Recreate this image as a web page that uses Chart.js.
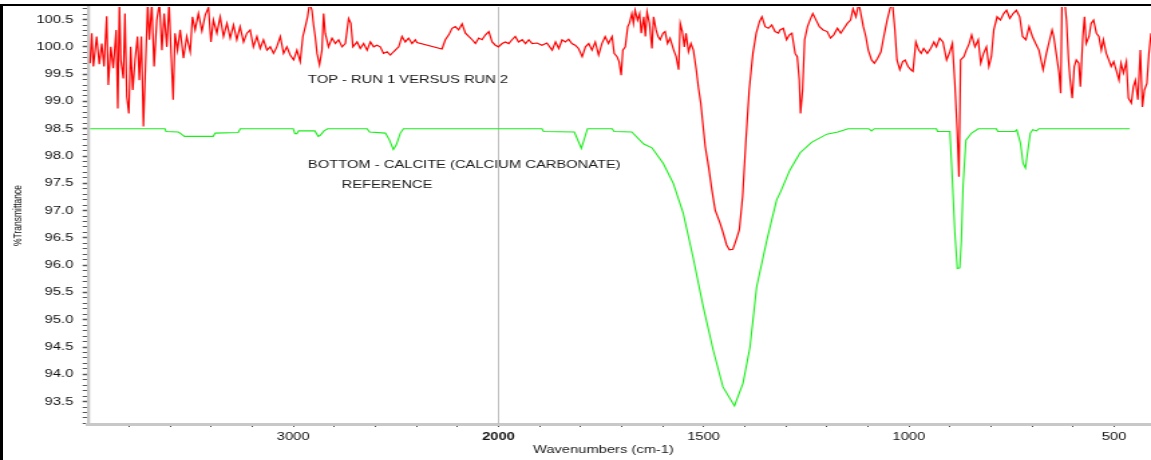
<!DOCTYPE html>
<html><head><meta charset="utf-8">
<script src="https://cdn.jsdelivr.net/npm/chart.js@4/dist/chart.umd.min.js"></script>
<style>
html,body{margin:0;padding:0;background:#fff;overflow:hidden;width:1151px;height:460px;}
#wrap{position:absolute;left:0;top:0;width:860px;height:460px;transform:scaleX(1.338372);transform-origin:0 0;}
#frame{position:absolute;left:0;top:4px;width:1151px;height:456px;border-left:3px solid #000;border-top:2px solid #000;box-sizing:border-box;pointer-events:none;}
</style></head><body>
<div id="wrap"><canvas id="c" width="860" height="460"></canvas></div>
<div id="frame"></div>
<script>
// ---- data (wavenumbers in cm-1, %Transmittance) ----
const redWn = [
3990,3982,3974,3958,3945,3933,3922,3909,3901,3889,
3877,3863,3855,3847,3840,3828,3820,3811,3801,3792,
3782,3771,3759,3750,3740,3730,3720,3709,3701,3689,
3678,3665,3652,3640,3629,3616,3605,3595,3585,3576,
3564,3551,3535,3519,3502,3491,3478,3462,3445,3429,
3413,3401,3389,3372,3356,3340,3323,3307,3291,3275,
3259,3242,3226,3210,3194,3177,3161,3145,3128,3112,
3096,3080,3063,3047,3031,3015,2998,2982,2966,2953,
2941,2930,2920,2909,2901,2893,2884,2872,2860,2852,
2844,2828,2811,2795,2779,2762,2746,2730,2719,2709,
2689,2673,2657,2640,2624,2608,2592,2576,2560,2543,
2527,2511,2494,2486,2470,2454,2438,2421,2405,2397,
2275,2259,2242,2226,2210,2194,2177,2161,2145,2128,
2112,2096,2080,2063,2047,2031,2015,2000,
1991,1983,1975,1967,1959,1951,1942,1934,1926,1918,
1906,1894,1882,1869,1861,1853,1845,1837,1829,1821,
1813,1805,1796,1788,1780,1772,1764,1756,1748,1740,
1732,1723,1718,1711,1706,1701,1697,1691,1685,1681,
1675,1671,1667,1661,1656,1652,1646,1642,1638,1632,
1626,1622,1616,1611,1606,1599,1594,1588,1582,1573,
1567,1561,1557,1552,1547,1543,1537,1531,1525,1518,
1513,1507,1502,1496,1488,1480,1472,1460,1452,1444,
1437,1429,1421,1413,1405,1397,1389,1380,1372,1364,
1358,1350,1342,1334,1326,1318,1314,1306,1298,1291,
1285,1277,1272,1267,1264,1259,1254,1247,1241,1234,
1226,1218,1209,1199,1191,1183,1174,1166,1158,1150,
1142,1136,1129,1122,1117,1111,1105,1099,1091,1084,
1076,1068,1061,1053,1046,1040,1034,1029,1022,1015,
1009,1002,995,990,983,976,970,964,955,947,
939,933,925,917,908,900,894,888,882,878,
874,866,860,853,847,839,831,825,818,811,
805,799,793,785,777,769,762,754,746,738,
730,723,715,707,699,691,683,673,665,657,
651,647,641,634,630,627,620,616,611,607,
602,597,592,586,582,576,572,568,561,556,
550,543,537,531,526,519,513,507,501,495,
488,483,477,470,465,458,453,448,442,436,
431,426,420,415,410
];
const redT = [
99.70,100.25,99.64,100.19,99.68,100.06,99.64,100.56,99.30,100.00,
99.61,100.31,98.87,100.80,99.76,99.42,100.61,99.09,98.78,100.00,
99.21,99.76,100.19,99.39,100.19,98.54,99.64,100.80,100.13,100.80,
99.64,100.49,100.80,99.94,100.61,100.00,100.80,99.88,99.03,100.25,
99.94,100.31,99.79,100.19,99.91,100.55,100.31,100.61,100.29,100.58,
100.72,100.09,100.49,100.25,100.55,100.19,100.43,100.16,100.40,100.13,
100.37,100.09,100.25,100.31,100.00,100.19,99.97,100.13,99.94,100.00,
99.88,100.00,100.19,99.88,100.00,99.85,99.76,99.94,99.73,100.19,
100.37,100.55,100.80,100.67,100.40,100.19,99.88,99.67,99.94,100.61,
100.25,100.00,100.16,100.06,100.13,100.00,100.06,100.52,100.43,100.00,
100.09,99.97,100.06,99.94,100.09,100.00,100.03,100.00,99.88,99.91,
99.85,99.91,99.97,100.00,100.19,100.09,100.16,100.06,100.13,100.08,
99.96,100.13,100.22,100.34,100.37,100.31,100.42,100.25,100.19,100.13,
100.06,100.16,100.13,100.22,100.28,100.09,100.03,100.00,
100.06,100.09,100.06,100.13,100.19,100.09,100.13,100.06,100.13,100.06,
100.07,100.03,100.07,99.94,100.09,99.97,100.13,100.09,100.14,100.06,
100.03,99.97,99.82,100.00,100.06,99.94,100.09,99.85,100.06,100.19,
100.06,100.19,99.88,99.82,99.73,99.48,99.94,100.00,100.37,100.43,
100.61,100.43,100.67,100.49,100.61,100.25,100.55,100.19,100.64,100.43,
99.97,100.55,100.31,100.19,100.13,100.25,100.28,100.06,100.16,99.94,
99.82,99.58,100.43,100.28,100.00,100.25,99.91,100.06,99.94,99.58,
99.27,98.97,98.60,98.17,97.80,97.38,97.01,96.77,96.58,96.37,
96.28,96.29,96.46,96.65,97.26,98.29,99.21,99.88,100.25,100.46,
100.55,100.37,100.34,100.40,100.28,100.25,100.31,100.34,100.13,100.22,
100.25,99.88,99.82,99.39,98.78,99.21,100.13,100.37,100.49,100.61,
100.49,100.37,100.31,100.28,100.16,100.22,100.34,100.25,100.34,100.43,
100.49,100.70,100.55,100.80,100.61,100.37,100.19,99.94,99.76,99.70,
99.79,99.91,100.19,100.49,100.70,100.80,100.31,99.76,99.58,99.73,
99.76,99.64,99.58,99.55,100.09,99.94,99.88,99.97,99.88,99.97,
100.09,100.00,100.16,100.09,99.76,99.91,100.06,99.33,98.42,97.62,
99.76,99.82,99.94,100.06,100.22,100.00,100.13,99.70,99.88,100.00,
99.64,99.82,100.31,100.55,100.49,100.61,100.67,100.52,100.61,100.67,
100.55,100.19,100.13,100.37,100.19,100.06,99.94,99.58,99.88,100.13,
100.31,100.19,99.88,99.52,99.15,100.80,100.80,100.49,99.76,99.39,
99.06,99.64,99.76,99.70,99.27,100.19,100.55,100.06,100.19,100.43,
100.49,100.25,100.19,99.94,100.13,99.88,99.76,99.64,99.73,99.58,
99.39,99.70,99.52,99.73,99.06,98.97,99.27,99.39,99.03,99.94,
98.90,99.21,99.33,99.88,100.25
];
const greenWn = [
3990,3625,3620,3560,3545,3530,3390,3380,3268,3258,
3000,2992,2982,2974,2895,2878,2868,2850,2832,2640,
2628,2551,2532,2512,2498,2478,2463,2000,1894,1890,
1815,1798,1783,1723,1718,1675,1646,1626,1599,1574,
1550,1526,1501,1477,1453,1425,1404,1387,1371,1346,
1322,1314,1290,1265,1237,1200,1173,1148,1098,1091,
1084,933,930,900,894,888,882,876,872,868,
861,847,831,787,783,742,737,728,722,716,
710,704,698,689,683,462
];
const greenT = [
98.50,98.50,98.45,98.44,98.40,98.36,98.36,98.42,98.43,98.50,
98.50,98.41,98.41,98.46,98.46,98.36,98.38,98.46,98.50,98.50,
98.44,98.42,98.30,98.12,98.20,98.42,98.50,98.50,98.50,98.45,
98.44,98.14,98.50,98.50,98.45,98.44,98.22,98.15,97.87,97.50,
96.96,96.15,95.24,94.45,93.77,93.42,93.84,94.50,95.60,96.46,
97.20,97.32,97.74,98.06,98.25,98.40,98.44,98.50,98.50,98.46,
98.50,98.50,98.45,98.45,97.56,96.59,95.94,95.95,96.46,97.44,
98.29,98.42,98.50,98.50,98.45,98.45,98.48,98.23,97.87,97.78,
98.11,98.42,98.48,98.46,98.50,98.50
];
const xLabelWn = [3000, 2000, 1500, 1000, 500];
const notes = [
  {text: 'TOP - RUN 1 VERSUS RUN 2', wn: 2928, t: 99.40},
  {text: 'BOTTOM - CALCITE (CALCIUM CARBONATE)', wn: 2928, t: 97.84},
  {text: 'REFERENCE', wn: 2764, t: 97.47}
];
const WN_LEFT = 4000, WN_RIGHT = 410;
const T_MIN = 93.09, T_MAX = 100.73;
const BREAK = 2000;   // scale halves above 2000 cm-1

// ---- axis transform (compressed scale above the break) ----
const toU = w => w > BREAK ? BREAK + (w - BREAK) / 2 : w;
const fromU = u => u > BREAK ? BREAK + (u - BREAK) * 2 : u;

const FONT = '"Liberation Sans", Arial, sans-serif';

const overlay = {
  id: 'overlay',
  beforeDatasetsDraw(chart) {
    const {ctx, chartArea: a, scales: {x}} = chart;
    const px = x.getPixelForValue(toU(BREAK));
    ctx.save();
    ctx.strokeStyle = '#bdbdbd';
    ctx.lineWidth = 1;
    ctx.beginPath();
    ctx.moveTo(Math.round(px) + 0.5, a.top);
    ctx.lineTo(Math.round(px) + 0.5, a.bottom);
    ctx.stroke();
    ctx.restore();
  },
  afterDatasetsDraw(chart) {
    const {ctx, scales: {x, y}} = chart;
    ctx.save();
    ctx.fillStyle = '#1a1a1a';
    ctx.font = '11px ' + FONT;
    ctx.textAlign = 'left';
    ctx.textBaseline = 'middle';
    notes.forEach(n => ctx.fillText(n.text, x.getPixelForValue(toU(n.wn)), y.getPixelForValue(n.t)));
    ctx.restore();
  },
  afterDraw(chart) {
    const {ctx} = chart;
    ctx.save();
    ctx.fillStyle = '#1a1a1a';
    ctx.font = '11px ' + FONT;
    ctx.textAlign = 'left';
    ctx.textBaseline = 'middle';
    ctx.fillText('Wavenumbers (cm-1)', 398.2, 449.5);
    ctx.restore();
  }
};

new Chart(document.getElementById('c'), {
  type: 'line',
  data: {
    datasets: [
      {
        label: 'Run 1 versus Run 2',
        data: redWn.map((w, i) => ({x: toU(w), y: redT[i]})),
        borderColor: '#ff0000',
        borderWidth: 1.2,
        pointRadius: 0,
        tension: 0
      },
      {
        label: 'Calcite reference',
        data: greenWn.map((w, i) => ({x: toU(w), y: greenT[i]})),
        borderColor: '#1aee1a',
        borderWidth: 1.1,
        pointRadius: 0,
        tension: 0
      }
    ]
  },
  options: {
    responsive: false,
    animation: false,
    devicePixelRatio: 1,
    layout: {padding: {top: 7, right: 0, bottom: 0, left: 0}},
    plugins: {legend: {display: false}, tooltip: {enabled: false}, title: {display: false}},
    scales: {
      x: {
        type: 'linear',
        reverse: true,
        min: toU(WN_RIGHT),
        max: toU(WN_LEFT),
        afterBuildTicks(scale) {
          const t = [];
          for (let u = 500; u <= 2900; u += 100) t.push({value: u});
          scale.ticks = t;
        },
        afterFit(scale) {
          scale.height = 36;
          scale.paddingLeft = 0; scale.paddingRight = 0; scale.paddingTop = 0; scale.paddingBottom = 0;
        },
        grid: {display: true, drawOnChartArea: false, drawTicks: true, tickLength: 3, tickColor: '#444', tickWidth: 1},
        border: {display: true, color: '#c8c8c8', width: 3},
        ticks: {
          autoSkip: false,
          maxRotation: 0,
          padding: 3,
          color: '#111',
          font: (ctx) => ({family: FONT, size: 11, weight: (ctx.tick && ctx.tick.value === 2000) ? 'bold' : 'normal'}),
          callback: (v) => {
            const w = Math.round(fromU(v));
            return xLabelWn.includes(w) ? String(w) : '';
          }
        },
        title: {display: false}
      },
      y: {
        type: 'linear',
        min: T_MIN,
        max: T_MAX,
        afterBuildTicks(scale) {
          const t = [];
          for (let k = Math.ceil(T_MIN * 10); k <= Math.floor(T_MAX * 10); k++) t.push({value: k / 10});
          scale.ticks = t;
        },
        afterFit(scale) {
          scale.width = 65.75;
          scale.paddingLeft = 0; scale.paddingRight = 0; scale.paddingTop = 0; scale.paddingBottom = 0;
        },
        grid: {display: true, drawOnChartArea: false, drawTicks: true, tickLength: 4, tickColor: '#555',
               tickWidth: (ctx) => (ctx.tick && Math.round(ctx.tick.value * 10) % 5 === 0) ? 1.5 : 1},
        border: {display: true, color: '#c8c8c8', width: 2.3},
        ticks: {
          autoSkip: false,
          padding: 7,
          color: '#111',
          font: {family: FONT, size: 11},
          callback: (v) => (Math.round(v * 10) % 5 === 0) ? Number(v).toFixed(1) : ''
        },
        title: {display: true, text: '%Transmittance', color: '#111', font: {family: FONT, size: 8.5}, padding: {top: 8.3, bottom: 0}}
      }
    }
  },
  plugins: [overlay]
});
</script>
</body></html>
